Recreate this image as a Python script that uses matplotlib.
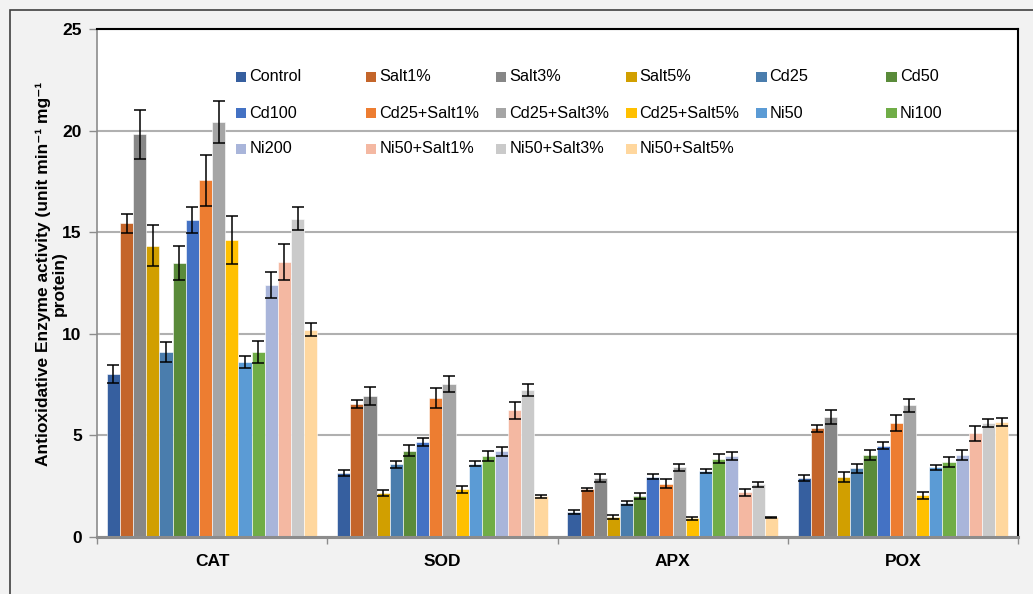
import numpy as np
import matplotlib
matplotlib.use("Agg")
from matplotlib import pyplot as plt
from matplotlib.patches import Rectangle

plt.rcParams["font.family"] = ["Liberation Sans", "DejaVu Sans"]

enzymes = ["CAT", "SOD", "APX", "POX"]
treatments = ["Control", "Salt1%", "Salt3%", "Salt5%", "Cd25", "Cd50",
              "Cd100", "Cd25+Salt1%", "Cd25+Salt3%", "Cd25+Salt5%", "Ni50", "Ni100",
              "Ni200", "Ni50+Salt1%", "Ni50+Salt3%", "Ni50+Salt5%"]
colors = ["#365F9F", "#C4652A", "#878787", "#D19F00", "#4A7DAD", "#5A8B3A",
          "#4472C4", "#ED7D31", "#A5A5A5", "#FFC000", "#5B9BD5", "#70AD47",
          "#A9B5DA", "#F4B8A2", "#CACACA", "#FFD79E"]

# mean activity per treatment, one list per enzyme (CAT, SOD, APX, POX)
cat = [8.02, 15.44, 19.82, 14.33, 9.10, 13.49, 15.59, 17.56, 20.41, 14.61, 8.61, 9.10, 12.38, 13.53, 15.66, 10.21]
sod = [3.16, 6.53, 6.95, 2.15, 3.57, 4.25, 4.67, 6.84, 7.54, 2.35, 3.61, 3.98, 4.22, 6.23, 7.23, 2.00]
apx = [1.21, 2.35, 2.92, 0.98, 1.66, 2.00, 2.97, 2.61, 3.43, 0.92, 3.25, 3.84, 3.98, 2.20, 2.59, 0.97]
pox = [2.92, 5.34, 5.90, 2.95, 3.38, 4.03, 4.49, 5.61, 6.48, 2.05, 3.43, 3.71, 4.03, 5.10, 5.63, 5.64]

# standard errors, same order
cat_err = [0.42, 0.46, 1.20, 1.00, 0.48, 0.85, 0.64, 1.26, 1.03, 1.20, 0.28, 0.56, 0.64, 0.87, 0.57, 0.31]
sod_err = [0.15, 0.20, 0.44, 0.15, 0.18, 0.28, 0.18, 0.51, 0.39, 0.18, 0.11, 0.26, 0.22, 0.41, 0.28, 0.08]
apx_err = [0.10, 0.08, 0.19, 0.08, 0.10, 0.15, 0.11, 0.22, 0.17, 0.07, 0.10, 0.22, 0.20, 0.18, 0.12, 0.03]
pox_err = [0.15, 0.16, 0.35, 0.23, 0.21, 0.26, 0.18, 0.41, 0.33, 0.18, 0.13, 0.25, 0.23, 0.36, 0.20, 0.20]

values = np.array([cat, sod, apx, pox])
errors = np.array([cat_err, sod_err, apx_err, pox_err])

fig = plt.figure(figsize=(10.33, 5.94), dpi=100, facecolor="#f2f2f2")
ax = fig.add_axes([0.0939, 0.096, 0.8916, 0.8552])
ax.set_facecolor("white")

n = len(treatments)
width = 1.0 / (n + 1.5)
x = np.arange(len(enzymes))
for i, name in enumerate(treatments):
    pos = x - 0.5 + 0.75 * width + (i + 0.5) * width
    ax.bar(pos, values[:, i], width, color=colors[i], edgecolor="white",
           linewidth=0.4, zorder=2)
    ax.errorbar(pos, values[:, i], yerr=errors[:, i], fmt="none", ecolor="black",
                elinewidth=1.1, capsize=4.5, capthick=1.1, zorder=3)

ax.set_xlim(-0.5, len(enzymes) - 0.5)
ax.set_ylim(0, 25)
ax.set_yticks([0, 5, 10, 15, 20, 25])
ax.yaxis.grid(True, color="#b0b0b0", linewidth=1.5, zorder=0)
ax.set_axisbelow(True)

ax.set_xticks(x)
ax.set_xticklabels(enzymes, fontsize=12.5, fontweight="bold")
ax.set_xticks(np.arange(len(enzymes) + 1) - 0.5, minor=True)
ax.tick_params(axis="x", which="major", length=0, pad=12)
ax.tick_params(axis="x", which="minor", length=5, color="#8c8c8c", width=1)
ax.tick_params(axis="y", length=6, color="#8c8c8c", width=1, pad=5)
for lab in ax.get_yticklabels():
    lab.set_fontsize(12.5)
    lab.set_fontweight("bold")

ax.spines["left"].set_color("#8c8c8c")
ax.spines["left"].set_linewidth(1.2)
ax.spines["bottom"].set_color("#8c8c8c")
ax.spines["bottom"].set_linewidth(2.2)
ax.spines["top"].set_color("black")
ax.spines["top"].set_linewidth(1.5)
ax.spines["right"].set_color("black")
ax.spines["right"].set_linewidth(1.5)

# y axis title, two lines
fig.text(43 / 1033, 1 - 274 / 594, "Antioxidative Enzyme activity (unit min\u207b\u00b9 mg\u207b\u00b9",
         rotation=90, ha="center", va="center", fontsize=12.5, fontweight="bold")
fig.text(59 / 1033, 1 - 284 / 594, "protein)",
         rotation=90, ha="center", va="center", fontsize=12.5, fontweight="bold")

# legend laid out row by row, 6 equal columns
x0, dx = 0.151, 0.1412
rows_y = [0.9055, 0.8346, 0.7638]
for i, name in enumerate(treatments):
    r, c = divmod(i, 6)
    xl = x0 + c * dx
    ax.add_patch(Rectangle((xl, rows_y[r] - 0.0095), 0.0112, 0.019, transform=ax.transAxes,
                           facecolor=colors[i], edgecolor="none", zorder=5))
    ax.text(xl + 0.0145, rows_y[r], name, transform=ax.transAxes, ha="left", va="center",
            fontsize=11.7, zorder=5)

# outer chart frame
fig.patches.append(Rectangle((10 / 1033, -0.1), 1.2, 1.1 - 10 / 594, transform=fig.transFigure,
                             fill=False, edgecolor="#404040", linewidth=1.2))

fig.savefig("out.png", dpi=100, facecolor=fig.get_facecolor())
